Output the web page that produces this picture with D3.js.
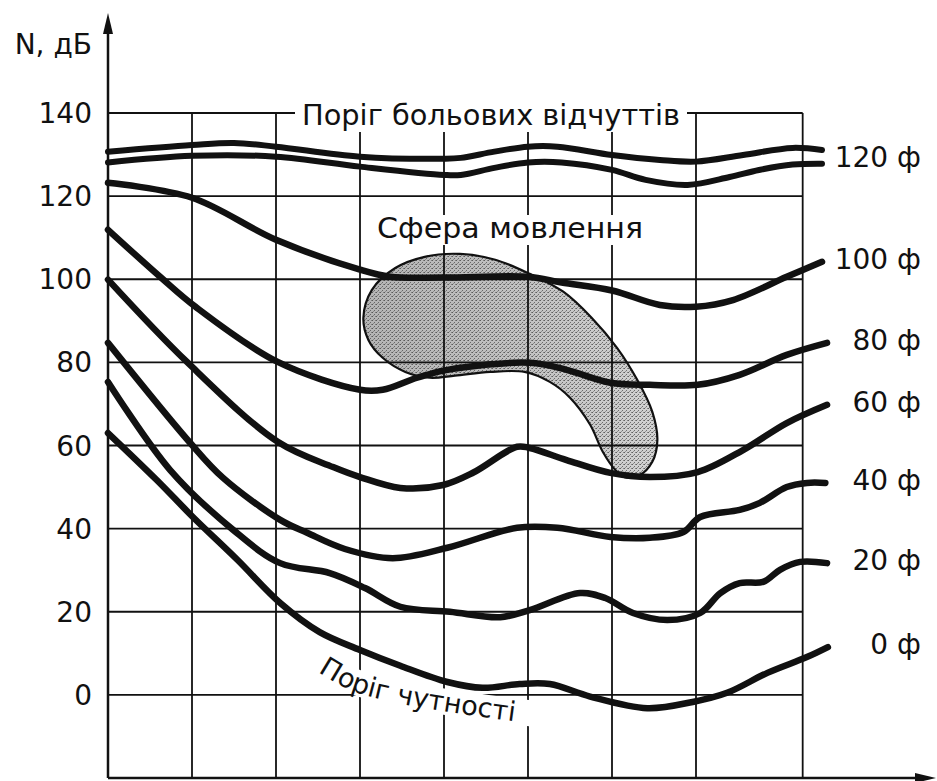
<!DOCTYPE html>
<html>
<head>
<meta charset="utf-8">
<script src="https://cdn.jsdelivr.net/npm/d3@7"></script>
<style>
  html, body { margin: 0; padding: 0; background: #fff; }
  #chart { width: 937px; height: 781px; }
  text { font-family: "DejaVu Sans", "Liberation Sans", Arial, sans-serif; fill: #111; }
</style>
</head>
<body>
<div id="chart"></div>
<script>
// Equal-loudness curves (isophons), x in grid columns, y in dB
const yTicks = [0, 20, 40, 60, 80, 100, 120, 140];
const gridColumns = [0, 1, 2, 3, 4, 5, 6, 7, 8.27];

const painThreshold = [[0,130.7],[1,132.3],[1.5,132.8],[2,131.9],[3,129.5],[4,129],[4.2,129.2],[4.6,130.7],[5,131.9],[5.35,131.9],[6,129.9],[6.57,128.7],[7,128.3],[7.56,129.9],[8.15,131.6],[8.5,131.1]];
const phon120 = [[0,128.1],[1,129.7],[2,129.5],[3,127.1],[4,125.1],[4.2,125.1],[4.6,126.8],[5,128.1],[5.4,128.1],[6,126.3],[6.4,123.9],[6.9,122.7],[7.4,124.6],[7.75,126.3],[8.15,127.6],[8.5,127.8]];
const phon100 = [[0,123.2],[1,119.6],[2,109.5],[3,102.3],[3.36,100.6],[4,100.4],[5,100.6],[5.4,99.2],[6,97.3],[6.57,93.8],[7,93.4],[7.44,95],[8.08,100.6],[8.5,104.2]];
const phon80 = [[0,111.9],[0.62,100.6],[1.04,93.4],[2.02,80.1],[3,73.4],[3.27,73.4],[3.68,76.3],[4.04,78.2],[5.02,79.9],[5.46,78.2],[5.98,75.1],[6.45,74.6],[7.02,74.6],[7.52,77],[8.08,81.8],[8.56,84.7]];
const phon60 = [[0,99.9],[0.94,80.1],[2.02,60.9],[2.68,54.8],[3,52.4],[3.48,49.8],[3.99,50.5],[4.35,53.5],[4.87,59.7],[5.02,59.4],[5.46,56.5],[5.98,53.4],[6.45,52.4],[7.02,53.6],[7.56,58.9],[8.08,65.4],[8.56,69.8]];
const phon40 = [[0,84.7],[0.98,60.6],[1.37,52.2],[2.05,42.1],[2.37,39],[2.82,35.1],[3.39,32.9],[4.04,35.4],[4.87,40.2],[5.35,40.2],[5.98,38],[6.45,37.8],[6.85,39.2],[7.05,42.8],[7.52,44.5],[7.76,46.2],[8.08,50],[8.32,51],[8.54,51]];
const phon20 = [[0,75.3],[0.74,54.1],[1.49,39.7],[2.05,31.7],[2.64,29.3],[3.06,25.7],[3.48,21.2],[4.07,20],[4.67,18.7],[5.02,20.4],[5.62,24.5],[5.92,23.3],[6.25,19.7],[6.66,18],[7.05,19.7],[7.29,24.5],[7.52,26.9],[7.8,27.2],[8,30.1],[8.24,32],[8.56,31.7]];
const phon0 = [[0,63],[0.58,51.7],[1.01,42.8],[1.54,32.5],[2.05,22.1],[2.52,15.1],[3,10.8],[3.48,7],[4.04,3.1],[4.46,1.7],[4.9,2.6],[5.26,2.6],[5.74,-0.4],[6.42,-3.2],[6.96,-1.7],[7.37,0.5],[7.85,5.3],[8.32,9.1],[8.57,11.5]];

// speech area outline
const speechArea = [[3.04,90.7],[3.14,97.4],[3.42,102.7],[3.77,105.4],[4.19,106.1],[4.61,104.7],[5.02,101.3],[5.42,97],[5.76,90.7],[6.06,83.5],[6.3,75.8],[6.48,68.1],[6.54,61.3],[6.48,56.1],[6.33,52.9],[6.15,52.4],[6.04,54.1],[5.89,58.5],[5.74,65],[5.5,71.5],[5.26,75.3],[4.96,77.7],[4.55,77.7],[4.13,76.8],[3.83,76.3],[3.54,77.7],[3.27,81.1],[3.1,85.4]];

const curves = [painThreshold, phon120, phon100, phon80, phon60, phon40, phon20, phon0];
const curveLabels = ["120 ф", "100 ф", "80 ф", "60 ф", "40 ф", "20 ф", "0 ф"];
const hearingPath = [[2.5,5.5],[2.88,1.2],[3.39,-1.7],[4.15,-4.4],[5.3,-7.6]];
const hearingBand = [[2.52,7.8],[2.88,3.6],[3.39,0.6],[4.15,-2.1],[5.1,-4.6]];

const width = 937;
const height = 781;

const svg = d3.select("#chart")
  .append("svg")
  .attr("width", width)
  .attr("height", height)
  .attr("viewBox", `0 0 ${width} ${height}`);

const x = d3.scaleLinear().domain([0, 10]).range([108, 948]);
const y = d3.scaleLinear().domain([-20, 140]).range([778, 113]);

const line = d3.line()
  .x((d) => x(d[0]))
  .y((d) => y(d[1]))
  .curve(d3.curveCatmullRom.alpha(0.5));

const closedLine = d3.line()
  .x((d) => x(d[0]))
  .y((d) => y(d[1]))
  .curve(d3.curveCatmullRomClosed.alpha(0.5));

const xRight = x(gridColumns[gridColumns.length - 1]);

// speech area (under grid): gray tone + stipple
const defs = svg.append("defs");
const grad = defs.append("linearGradient").attr("id", "speechFill")
  .attr("x1", "0").attr("y1", "0").attr("x2", "1").attr("y2", "0");
grad.append("stop").attr("offset", "0%").attr("stop-color", "#b4b4b4");
grad.append("stop").attr("offset", "55%").attr("stop-color", "#c2c2c2");
grad.append("stop").attr("offset", "100%").attr("stop-color", "#d2d2d2");

const dots = defs.append("pattern").attr("id", "stipple")
  .attr("patternUnits", "userSpaceOnUse")
  .attr("width", 4).attr("height", 4);
dots.append("rect").attr("x", 0).attr("y", 0).attr("width", 1).attr("height", 1).attr("fill", "#333");
dots.append("rect").attr("x", 2).attr("y", 2).attr("width", 1).attr("height", 1).attr("fill", "#444");
dots.append("rect").attr("x", 3).attr("y", 0).attr("width", 1).attr("height", 1).attr("fill", "#666");
dots.append("rect").attr("x", 1).attr("y", 3).attr("width", 1).attr("height", 1).attr("fill", "#777");

svg.append("path")
  .datum(speechArea)
  .attr("d", closedLine)
  .attr("fill", "url(#speechFill)");
svg.append("path")
  .datum(speechArea)
  .attr("d", closedLine)
  .attr("fill", "url(#stipple)")
  .attr("fill-opacity", 0.7)
  .attr("stroke", "#111")
  .attr("stroke-width", 2.2);

// grid
const grid = svg.append("g").attr("stroke", "#111").attr("stroke-width", 1.8);
grid.selectAll("line.h")
  .data(yTicks)
  .join("line")
  .attr("class", "h")
  .attr("x1", x(0))
  .attr("x2", xRight)
  .attr("y1", (d) => y(d))
  .attr("y2", (d) => y(d));
grid.selectAll("line.v")
  .data(gridColumns.slice(1))
  .join("line")
  .attr("class", "v")
  .attr("x1", (d) => x(d))
  .attr("x2", (d) => x(d))
  .attr("y1", y(140))
  .attr("y2", y(-20));

// axes with arrows
const axes = svg.append("g").attr("stroke", "#111").attr("stroke-width", 2.5);
axes.append("line").attr("x1", x(0)).attr("x2", x(0)).attr("y1", y(-20)).attr("y2", 28);
axes.append("line").attr("x1", x(0)).attr("x2", 925).attr("y1", y(-20)).attr("y2", y(-20));
svg.append("path")
  .attr("d", `M${x(0)},13 L${x(0) - 5},34 L${x(0) + 5},34 Z`)
  .attr("fill", "#111");
svg.append("path")
  .attr("d", `M936,${y(-20)} L915,${y(-20) - 5} L915,${y(-20) + 5} Z`)
  .attr("fill", "#111");

// white band under the hearing threshold caption (breaks the grid)
svg.append("path")
  .attr("d", line(hearingBand))
  .attr("fill", "none")
  .attr("stroke", "#fff")
  .attr("stroke-width", 26);

// curves
svg.append("g")
  .selectAll("path")
  .data(curves)
  .join("path")
  .attr("d", line)
  .attr("fill", "none")
  .attr("stroke", "#111")
  .attr("stroke-width", (d, i) => (i < 2 ? 6 : 6.5))
  .attr("stroke-linecap", "round");

// y tick labels
svg.append("g")
  .selectAll("text")
  .data(yTicks)
  .join("text")
  .attr("x", 92)
  .attr("y", (d) => y(d))
  .attr("dy", "0.36em")
  .attr("text-anchor", "end")
  .attr("font-size", 28)
  .text((d) => d);

svg.append("text")
  .attr("x", 92)
  .attr("y", 54)
  .attr("text-anchor", "end")
  .attr("font-size", 28)
  .text("N, дБ");

// curve labels at right end
const labelY = (i) => {
  if (i === 0) {
    const a = painThreshold[painThreshold.length - 1][1];
    const b = phon120[phon120.length - 1][1];
    return y((a + b) / 2);
  }
  const c = curves[i + 1];
  return y(c[c.length - 1][1]) - 3;
};
svg.append("g")
  .selectAll("text")
  .data(curveLabels)
  .join("text")
  .attr("x", 921)
  .attr("y", (d, i) => labelY(i))
  .attr("dy", "0.36em")
  .attr("text-anchor", "end")
  .attr("font-size", 28)
  .text((d) => d);

// annotations with a white box behind
function boxedText(tx, ty, len, str, pad) {
  const g = svg.append("g");
  const t = g.append("text")
    .attr("x", tx)
    .attr("y", ty)
    .attr("font-size", 28)
    .attr("textLength", len)
    .attr("lengthAdjust", "spacingAndGlyphs")
    .text(str);
  const b = t.node().getBBox();
  g.insert("rect", "text")
    .attr("x", b.x - pad)
    .attr("y", b.y + 3)
    .attr("width", b.width + pad * 2)
    .attr("height", b.height - 3)
    .attr("fill", "#fff");
}

boxedText(302, 125, 378, "Поріг больових відчуттів", 7);
boxedText(377, 238, 266, "Сфера мовлення", 2);

defs.append("path")
  .attr("id", "hearingPath")
  .attr("d", line(hearingPath));

svg.append("text")
  .attr("font-size", 27)
  .append("textPath")
  .attr("href", "#hearingPath")
  .text("Поріг чутності");
</script>
</body>
</html>
